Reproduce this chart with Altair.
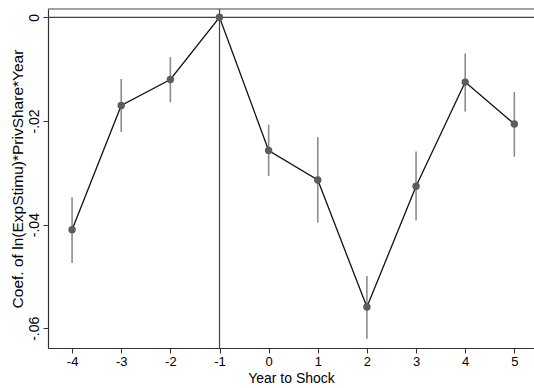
import altair as alt
import pandas as pd

# Event-study estimates by year relative to the shock
years = [-4, -3, -2, -1, 0, 1, 2, 3, 4, 5]
coef = [-0.0410, -0.0170, -0.0120, 0.0, -0.0257, -0.0314, -0.0559, -0.0326, -0.0125, -0.0206]
ci_low = [-0.0474, -0.0221, -0.0164, 0.0, -0.0306, -0.0396, -0.0620, -0.0392, -0.0182, -0.0269]
ci_high = [-0.0347, -0.0119, -0.0077, 0.0, -0.0207, -0.0231, -0.0499, -0.0259, -0.0070, -0.0144]

x_ticks = [-4, -3, -2, -1, 0, 1, 2, 3, 4, 5]
y_ticks = [0, -0.02, -0.04, -0.06]

df = pd.DataFrame({"year": years, "coef": coef, "lo": ci_low, "hi": ci_high})

FONT = "Liberation Sans"
x_scale = alt.Scale(domain=[-4.49, 5.4], nice=False, zero=False)
y_scale = alt.Scale(domain=[-0.0638, 0.0016], nice=False, zero=False)

x_axis = alt.Axis(
    values=x_ticks, title="Year to Shock", grid=False,
    labelExpr="'' + datum.value",
    labelFont=FONT, labelFontSize=13, labelColor="#000", labelPadding=2,
    tickSize=5, tickColor="#333", domainColor="#333", domainWidth=1.2,
    titleFont=FONT, titleFontSize=14, titleFontWeight="normal", titleColor="#000",
    titleY=34, titleBaseline="alphabetic",
)
y_axis = alt.Axis(
    values=y_ticks, title="Coef. of ln(ExpStimu)*PrivShare*Year", grid=False,
    labelExpr="datum.value == 0 ? '0' : '-.0' + round(abs(datum.value) * 100)",
    labelFont=FONT, labelFontSize=14, labelColor="#000", labelAngle=270,
    labelAlign="center", labelBaseline="alphabetic", labelPadding=5,
    tickSize=5, tickColor="#333", domainColor="#333", domainWidth=1.2,
    titleFont=FONT, titleFontSize=15.5, titleFontWeight="normal", titleColor="#000",
    titleX=-26, titleBaseline="alphabetic",
)

base = alt.Chart(df)

errbars = base.mark_rule(color="#8c8c8c", strokeWidth=1.6).encode(
    x=alt.X("year:Q", scale=x_scale, axis=x_axis),
    y=alt.Y("lo:Q", scale=y_scale, axis=y_axis),
    y2="hi:Q",
)

line = base.mark_line(color="#111", strokeWidth=1.3).encode(
    x=alt.X("year:Q", scale=x_scale),
    y=alt.Y("coef:Q", scale=y_scale),
)

points = base.mark_circle(color="#5c5c5c", opacity=1, size=55).encode(
    x=alt.X("year:Q", scale=x_scale),
    y=alt.Y("coef:Q", scale=y_scale),
)

ref = pd.DataFrame({"v": [0.0], "yr": [-1]})
hline = alt.Chart(ref).mark_rule(color="#444", strokeWidth=1.2).encode(
    y=alt.Y("v:Q", scale=y_scale)
)
vline = alt.Chart(ref).mark_rule(color="#444", strokeWidth=1.2).encode(
    x=alt.X("yr:Q", scale=x_scale)
)

# top frame line of the plot region
top = alt.Chart(ref).mark_rule(color="#444", strokeWidth=1.2).encode(
    y=alt.value(0)
)

chart = alt.layer(vline, hline, top, errbars, line, points).properties(
    width=486, height=339,
    autosize=alt.AutoSizeParams(type="none"),
    padding={"left": 48, "top": 9, "right": 0, "bottom": 40},
    background="white",
).configure_view(stroke=None)

chart.save("out.html", embed_options={"renderer": "svg", "actions": False})
